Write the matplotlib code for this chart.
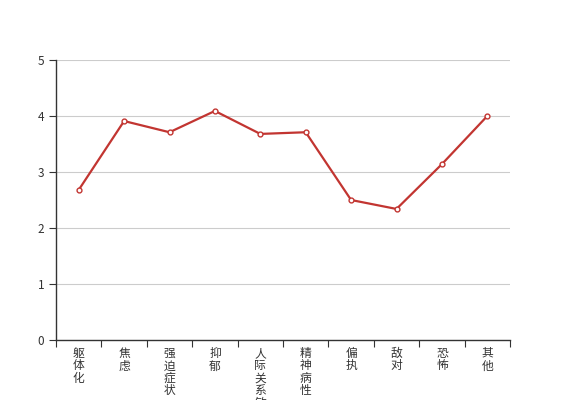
import matplotlib
matplotlib.use("Agg")
import matplotlib.pyplot as plt
import numpy as np

plt.rcParams['font.family'] = ['Noto Sans CJK SC', 'DejaVu Sans']

categories = ['躯体化', '焦虑', '强迫症状', '抑郁', '人际关系敏感', '精神病性', '偏执', '敌对', '恐怖', '其他']
values = [2.68, 3.91, 3.71, 4.09, 3.68, 3.71, 2.50, 2.34, 3.14, 4.00]

fig = plt.figure(figsize=(5.67, 4.0), dpi=100)
ax = fig.add_axes([56 / 567, 60 / 400, 454 / 567, 280 / 400])

x = np.arange(len(categories))
ax.plot(x, values, color='#c23531', linewidth=1.6, marker='o', markersize=3.5,
        markerfacecolor='white', markeredgecolor='#c23531', markeredgewidth=1, zorder=3)

ax.set_xlim(-0.5, len(categories) - 0.5)
ax.set_ylim(0, 5)
ax.set_yticks(range(6))
ax.yaxis.grid(True, color='#cccccc', linewidth=0.8)
ax.set_axisbelow(True)

# band boundaries get tick marks, centres get the labels
ax.set_xticks(np.arange(-0.5, len(categories), 1.0))
ax.set_xticklabels([])
ax.set_xticks(x, minor=True)
ax.set_xticklabels(['\n'.join(c) for c in categories], minor=True, fontsize=8.5,
                   linespacing=0.95, color='#333333')
ax.tick_params(axis='x', which='minor', length=0, pad=5)
ax.tick_params(axis='x', which='major', length=5, width=0.8, color='#333333')
ax.tick_params(axis='y', length=5, width=0.8, labelsize=8.5, color='#333333', labelcolor='#333333')

for s in ['top', 'right']:
    ax.spines[s].set_visible(False)
for s in ['left', 'bottom']:
    ax.spines[s].set_color('#333333')
    ax.spines[s].set_linewidth(1)

fig.savefig('out.png', dpi=100)
